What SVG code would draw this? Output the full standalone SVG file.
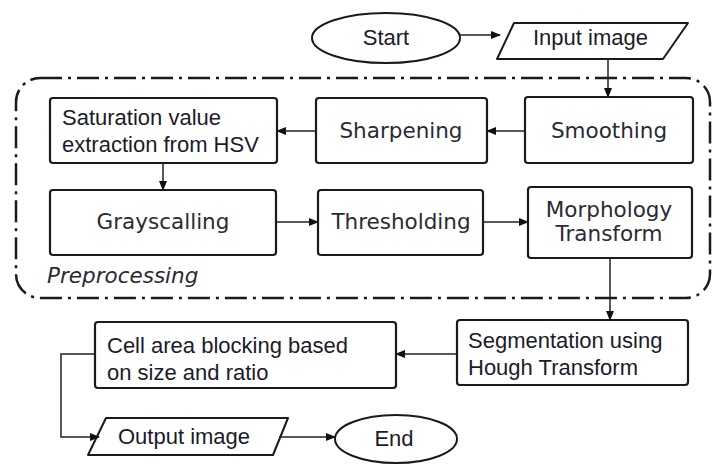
<svg xmlns="http://www.w3.org/2000/svg" width="713" height="465" viewBox="0 0 713 465">
<defs>
<marker id="ah" markerWidth="10" markerHeight="8" refX="9" refY="4" orient="auto" markerUnits="userSpaceOnUse">
<path d="M0,0 L10,4 L0,8 Z" fill="#111"/>
</marker>
<style>
.box{fill:#fff;stroke:#1a1a1a;stroke-width:2.2}
.term{fill:#fff;stroke:#1a1a1a;stroke-width:2}
.conn{fill:none;stroke:#222;stroke-width:1.5;marker-end:url(#ah)}
.ar{font-family:"Liberation Sans",Arial,sans-serif;font-size:22px;fill:#1b1b2a}
.vd{font-family:"DejaVu Sans",Verdana,sans-serif;font-size:21.5px;fill:#2a2a35;text-anchor:middle}
</style>
</defs>
<rect x="16" y="78" width="694" height="220" rx="24" fill="none" stroke="#1a1a1a" stroke-width="2.5" stroke-dasharray="22 6 3 6"/>
<text x="47" y="283" font-family="'DejaVu Sans',Verdana,sans-serif" font-size="21.5" font-style="italic" fill="#2a2a35">Preprocessing</text>
<g id="start"><ellipse class="term" cx="386" cy="38" rx="74" ry="25"/><text class="ar" x="386" y="45" text-anchor="middle">Start</text></g>
<g id="input"><polygon class="term" stroke-linejoin="round" points="514,23 688,23 663,59 497,59"/><text class="ar" x="533" y="45">Input image</text></g>
<g id="smoothing"><rect class="box" x="525" y="97" width="168" height="66" rx="3"/><text class="vd" x="609" y="138">Smoothing</text></g>
<g id="sharpening"><rect class="box" x="316" y="98" width="171" height="65" rx="3"/><text class="vd" x="401" y="138">Sharpening</text></g>
<g id="saturation"><rect class="box" x="50" y="98" width="227" height="65" rx="3"/><text class="ar" x="62" y="125">Saturation value</text><text class="ar" x="62" y="152">extraction from HSV</text></g>
<g id="grayscalling"><rect class="box" x="50" y="190" width="226" height="65" rx="3"/><text class="vd" x="163" y="229">Grayscalling</text></g>
<g id="thresholding"><rect class="box" x="318" y="190" width="165" height="65" rx="3"/><text class="vd" x="401" y="229">Thresholding</text></g>
<g id="morphology"><rect class="box" x="528" y="187" width="164" height="71" rx="3"/><text class="vd" x="609" y="217">Morphology</text><text class="vd" x="609" y="241">Transform</text></g>
<g id="segmentation"><rect class="box" x="457" y="320" width="231" height="65" rx="3"/><text class="ar" x="468" y="348">Segmentation using</text><text class="ar" x="468" y="375">Hough Transform</text></g>
<g id="cellarea"><rect class="box" x="95" y="322" width="301" height="66" rx="3"/><text class="ar" x="107" y="353">Cell area blocking based</text><text class="ar" x="107" y="380">on size and ratio</text></g>
<g id="output"><polygon class="term" stroke-linejoin="round" points="106,418 288,418 273,455 88,455"/><text class="ar" x="118" y="444">Output image</text></g>
<g id="end"><ellipse class="term" cx="396" cy="439" rx="61" ry="24"/><text class="ar" x="394" y="446" text-anchor="middle">End</text></g>
<g id="connectors">
<line class="conn" x1="460" y1="35" x2="500" y2="35"/>
<line class="conn" x1="608" y1="59" x2="608" y2="97"/>
<line class="conn" x1="525" y1="131" x2="487" y2="131"/>
<line class="conn" x1="316" y1="131" x2="277" y2="131"/>
<line class="conn" x1="163" y1="163" x2="163" y2="190"/>
<line class="conn" x1="276" y1="222" x2="318" y2="222"/>
<line class="conn" x1="483" y1="222" x2="528" y2="222"/>
<line class="conn" x1="610" y1="258" x2="610" y2="320"/>
<line class="conn" x1="457" y1="354" x2="396" y2="354"/>
<polyline class="conn" points="95,354 61,354 61,437 99,437"/>
<line class="conn" x1="279" y1="437" x2="335" y2="437"/>
</g>
</svg>
